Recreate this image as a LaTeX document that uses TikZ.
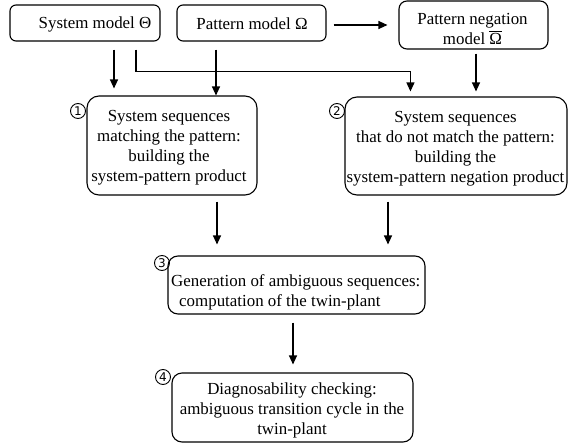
\documentclass[tikz,border=0pt]{standalone}
\usepackage{fontspec}
\setmainfont{Liberation Serif}
\newfontfamily\numfont{DejaVu Sans}
\usetikzlibrary{arrows.meta,calc}
\begin{document}
\begin{tikzpicture}[x=1pt,y=-1pt,
  frame/.style={draw, line width=1.1pt, rounded corners=#1, inner sep=0pt},
  txt/.style={inner sep=0pt, align=center, font=\fontsize{16.9}{20}\selectfont},
  stepno/.style={draw, circle, line width=0.9pt, inner sep=0pt, minimum size=15pt,
    font=\numfont\fontsize{12}{12}\selectfont},
  arr/.style={line width=1.1pt, -{Triangle[length=9pt,width=8pt]}}]
\useasboundingbox (0,0) rectangle (568,447);

% input models
\node[frame=6pt, minimum width=150pt, minimum height=36pt] (sysm) at (85,23) {};
\node[txt] (sysmt) at (95,24) {System model Θ};
\node[frame=6pt, minimum width=149pt, minimum height=36pt] (patm) at (251.5,23) {};
\node[txt] (patmt) at (252,24) {Pattern model Ω};
\node[frame=8pt, minimum width=149pt, minimum height=48pt] (negm) at (473.5,25) {};
\node[txt] (negmt) at (472.5,28.5) {Pattern negation\\model \ensuremath{\overline{\mbox{Ω}}}};

% processing steps
\node[frame=12pt, minimum width=170pt, minimum height=99pt] (box1) at (172,145.5) {};
\node[txt] (box1t) at (169,148) {System sequences\\matching the pattern:\\building the\\system-pattern product};
\node[frame=12pt, minimum width=222pt, minimum height=98pt] (box2) at (456,146) {};
\node[txt] (box2t) at (455.5,148.5) {System sequences\\that do not match the pattern:\\building the\\system-pattern negation product};
\node[frame=10pt, minimum width=257pt, minimum height=58pt] (box3) at (296.5,285) {};
\node[txt, align=left, anchor=west] (box3t) at (171,292) {Generation of ambiguous sequences:\\\hspace*{8pt}computation of the twin-plant};
\node[frame=10pt, minimum width=241pt, minimum height=69pt] (box4) at (292.5,407.5) {};
\node[txt] (box4t) at (292,410) {Diagnosability checking:\\ambiguous transition cycle in the\\twin-plant};

% step numbers
\node[stepno] (n1) at (78,111) {1};
\node[stepno] (n2) at (337,111) {2};
\node[stepno] (n3) at (162,263) {3};
\node[stepno] (n4) at (163,377) {4};

% connectors
\coordinate (s1) at ($(sysm.south)+(29,8)$);
\draw[arr, shorten >=7pt] (s1) -- (s1 |- box1.north);
\coordinate (s2) at ($(sysm.south)+(51,8)$);
\coordinate (r2) at ($(box2.north west)+(66,-25)$);
\draw[arr, shorten >=5pt] (s2) |- (r2) -- (r2 |- box2.north);
\coordinate (s3) at ($(patm.south)+(-35.5,8)$);
\draw[arr] (s3) -- (s3 |- box1.north);
\coordinate (s4) at ($(patm.east)+(7,2)$);
\draw[arr, shorten >=11pt] (s4) -- (s4 -| negm.west);
\coordinate (s5) at ($(negm.south)+(2.5,4)$);
\draw[arr, shorten >=5pt] (s5) -- (s5 |- box2.north);
\coordinate (s6) at ($(box1.south)+(45,6)$);
\draw[arr, shorten >=11pt] (s6) -- (s6 |- box3.north);
\coordinate (s7) at ($(box2.south)+(-68,6)$);
\draw[arr, shorten >=11pt] (s7) -- (s7 |- box3.north);
\coordinate (s8) at ($(box3.south)+(-3.5,8)$);
\draw[arr, shorten >=8pt] (s8) -- (s8 |- box4.north);
\end{tikzpicture}
\end{document}
